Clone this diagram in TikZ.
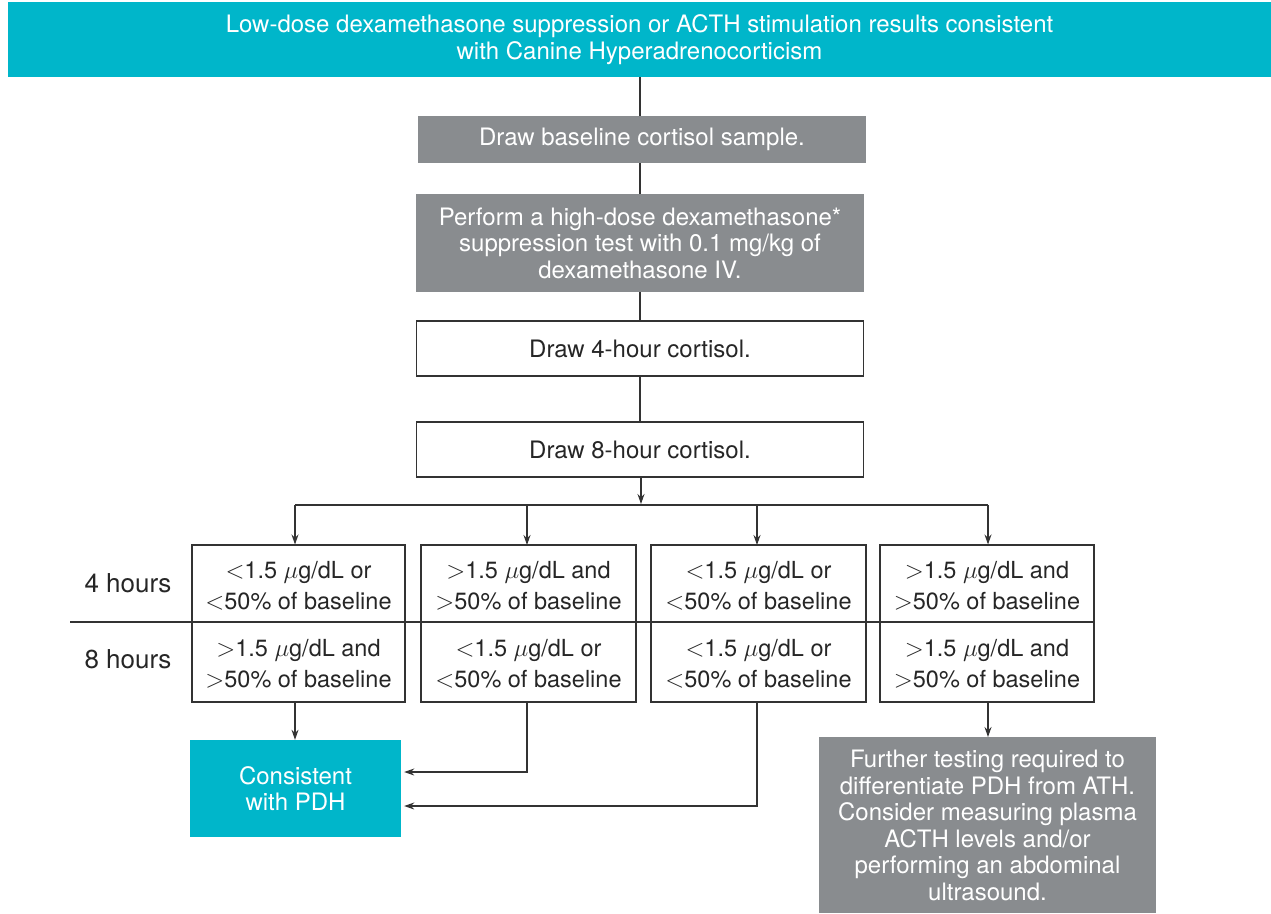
\documentclass[tikz,border=0pt]{standalone}
\usepackage{fontspec}
\setmainfont{TeX Gyre Heros}
\usetikzlibrary{arrows.meta,calc}
\definecolor{tealA}{HTML}{00B6CA}
\definecolor{grayA}{HTML}{898C8F}
\definecolor{lineA}{HTML}{333333}
\begin{document}
\begin{tikzpicture}[x=1pt,y=-1pt,
  font=\fontsize{24}{26.5}\selectfont,
  conn/.style={draw=lineA, line width=1.1pt},
  arr/.style={conn,-{Stealth[length=10pt,width=7pt]}},
  fillbox/.style={text=white, align=center, inner sep=0pt},
  whitebox/.style={draw=lineA, line width=1.1pt, fill=white, inner sep=0pt, align=center},
  celltext/.style={align=center, inner sep=0pt, text=black!85, font=\fontsize{23.5}{31}\selectfont},
  lbl/.style={inner sep=0pt, text=black!85, font=\fontsize{26}{30}\selectfont}
]
\useasboundingbox (0,0) rectangle (1271,913);
% top banner
\node[fillbox, fill=tealA, minimum width=1263pt, minimum height=75pt] (banner) at (639.5,39.5)
  {Low-dose dexamethasone suppression or ACTH stimulation results consistent\\with Canine Hyperadrenocorticism};
\node[fillbox, fill=grayA, minimum width=448pt, minimum height=47pt] (b1) at (642,139.5)
  {Draw baseline cortisol sample.};
\node[fillbox, fill=grayA, minimum width=448pt, minimum height=98pt] (b2) at (640,243)
  {Perform a high-dose dexamethasone*\\suppression test with 0.1 mg/kg of\\dexamethasone IV.};
\node[whitebox, minimum width=447pt, minimum height=55pt, text=black!85] (b3) at (640,348.5)
  {Draw 4-hour cortisol.};
\node[whitebox, minimum width=447pt, minimum height=55pt, text=black!85] (b4) at (640,449.5)
  {Draw 8-hour cortisol.};
\draw[conn] (banner.south -| b3.north) -- (b1.north -| b3.north);
\draw[conn] (b1.south -| b3.north) -- (b2.north);
\draw[conn] (b2.south) -- (b3.north);
\draw[conn] (b3.south) -- (b4.north);
% columns
\node[whitebox, minimum width=213pt, minimum height=157pt] (c1) at (298.5,623.5) {};
\node[whitebox, minimum width=215pt, minimum height=157pt] (c2) at (528.5,623.5) {};
\node[whitebox, minimum width=215pt, minimum height=157pt] (c3) at (758.5,623.5) {};
\node[whitebox, minimum width=214pt, minimum height=157pt] (c4) at (987,623.5) {};
\coordinate (dl) at (70,622);
\coordinate (dr) at (1094,622);
\draw[conn] (dl) -- (dr);
% branch arrows
\coordinate (hub) at (641,505);
\draw[arr] (b4.south -| hub) -- ($(hub)+(0,-1)$);
\coordinate (hl) at (295,505);
\coordinate (hr) at (988,505);
\draw[conn] (hl) -- (hr);
\draw[arr] (hl) -- (hl |- c1.north);
\draw[arr] (527,505) -- (527,545);
\draw[arr] (757,505) -- (757,545);
\draw[arr] (hr) -- (hr |- c4.north);
% cell texts
\node[celltext] (t1a) at (298.5,585.5) {$<$1.5 $\mu$g/dL or\\$<$50\% of baseline};
\node[celltext] (t1b) at (298.5,663.5) {$>$1.5 $\mu$g/dL and\\$>$50\% of baseline};
\node[celltext] (t2a) at (528.5,585.5) {$>$1.5 $\mu$g/dL and\\$>$50\% of baseline};
\node[celltext] (t2b) at (528.5,663.5) {$<$1.5 $\mu$g/dL or\\$<$50\% of baseline};
\node[celltext] (t3a) at (758.5,585.5) {$<$1.5 $\mu$g/dL or\\$<$50\% of baseline};
\node[celltext] (t3b) at (758.5,663.5) {$<$1.5 $\mu$g/dL or\\$<$50\% of baseline};
\node[celltext] (t4a) at (987,585.5) {$>$1.5 $\mu$g/dL and\\$>$50\% of baseline};
\node[celltext] (t4b) at (987,663.5) {$>$1.5 $\mu$g/dL and\\$>$50\% of baseline};
\node[lbl] (h4) at (128,583) {4 hours};
\node[lbl] (h8) at (128,659) {8 hours};
% outcomes
\node[fillbox, fill=tealA, minimum width=211pt, minimum height=97pt] (pdh) at (295.5,788.5)
  {Consistent\\with PDH};
\node[fillbox, fill=grayA, minimum width=337pt, minimum height=176pt, anchor=north] (fur) at (987.5,737)
  {Further testing required to\\differentiate PDH from ATH.\\Consider measuring plasma\\ACTH levels and/or\\performing an abdominal\\ultrasound.};
\draw[arr] (c1.south -| 295,0) -- (pdh.north -| 295,0);
\draw[arr] (c2.south -| 527,0) |- ($(pdh.east)+(3,-16.5)$);
\draw[arr] (c3.south -| 757,0) |- ($(pdh.east)+(3,17.5)$);
\draw[arr] (c4.south -| 988,0) -- (fur.north -| 988,0);
\end{tikzpicture}
\end{document}
